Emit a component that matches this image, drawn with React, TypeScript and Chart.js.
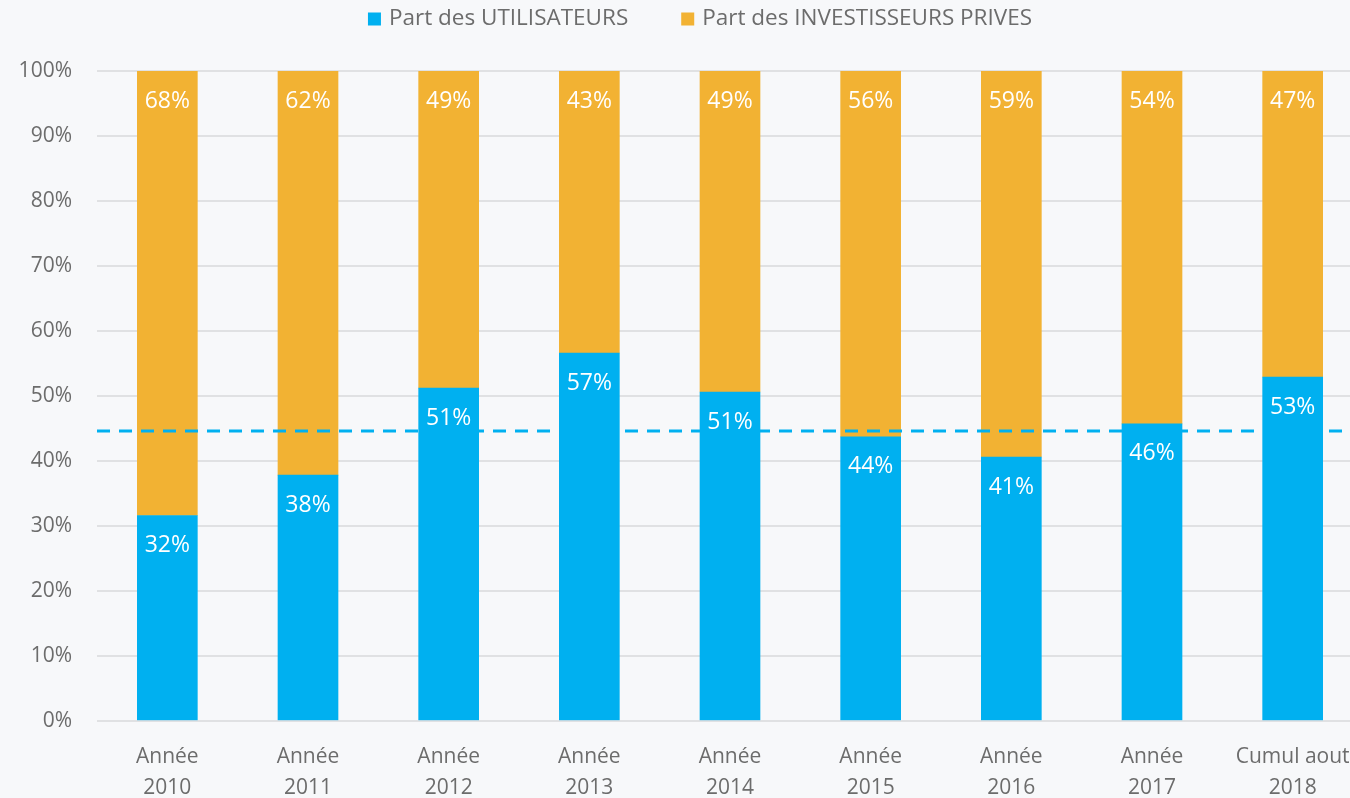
import React, { useEffect, useRef } from "react";
import { Chart, registerables } from "chart.js";

Chart.register(...registerables);

const categories: string[][] = [
  ["Année", "2010"],
  ["Année", "2011"],
  ["Année", "2012"],
  ["Année", "2013"],
  ["Année", "2014"],
  ["Année", "2015"],
  ["Année", "2016"],
  ["Année", "2017"],
  ["Cumul aout", "2018"],
];
const usersShare: number[] = [31.6, 37.8, 51.2, 56.6, 50.6, 43.7, 40.6, 45.7, 52.9];
const privateShare: number[] = [68.4, 62.2, 48.8, 43.4, 49.4, 56.3, 59.4, 54.3, 47.1];
const averageLine = 44.6;
const yTicks: number[] = [0, 10, 20, 30, 40, 50, 60, 70, 80, 90, 100];
const seriesNames: string[] = ["Part des UTILISATEURS", "Part des INVESTISSEURS PRIVES"];

const BLUE = "#00B0F0";
const ORANGE = "#F2B233";
const TEXT = "#6C6C6C";
const BG = "#F7F8FA";
const FONT = "'Open Sans', 'Noto Sans', sans-serif";

const W = 1400;
const H = 825;

const overlayPlugin = {
  id: "overlay",
  afterDatasetsDraw(chart: any) {
    const { ctx, chartArea, scales } = chart;
    // average dashed line
    const y = scales.y.getPixelForValue(averageLine);
    ctx.save();
    ctx.strokeStyle = BLUE;
    ctx.lineWidth = 3;
    ctx.setLineDash([13, 9]);
    ctx.beginPath();
    ctx.moveTo(chartArea.left, y);
    ctx.lineTo(chartArea.right, y);
    ctx.stroke();
    ctx.restore();
    // data labels
    ctx.save();
    ctx.fillStyle = "#ffffff";
    ctx.font = `23px ${FONT}`;
    ctx.textAlign = "center";
    ctx.textBaseline = "middle";
    chart.data.datasets.forEach((ds: any, di: number) => {
      const meta = chart.getDatasetMeta(di);
      meta.data.forEach((el: any, i: number) => {
        const v = ds.data[i];
        const top = Math.min(el.y, el.base);
        ctx.fillText(Math.round(v) + "%", el.x, top + 30);
      });
    });
    ctx.restore();
  },
  afterDraw(chart: any) {
    const { ctx } = chart;
    ctx.save();
    ctx.font = `22.5px ${FONT}`;
    ctx.textBaseline = "middle";
    const box = 13;
    const gap = 8;
    const itemGap = 53;
    const widths = seriesNames.map((n) => ctx.measureText(n).width);
    const total = widths.reduce((a: number, w: number) => a + box + gap + w, 0) + itemGap;
    let x = 700 - total / 2;
    const cy = 19;
    const colors = [BLUE, ORANGE];
    seriesNames.forEach((n, i) => {
      ctx.fillStyle = colors[i];
      ctx.fillRect(x, cy - box / 2, box, box);
      x += box + gap;
      ctx.fillStyle = TEXT;
      ctx.fillText(n, x, cy);
      x += widths[i] + itemGap;
    });
    ctx.restore();
  },
};

export default function App() {
  const ref = useRef<HTMLCanvasElement | null>(null);
  useEffect(() => {
    if (!ref.current) return;
    const chart = new Chart(ref.current, {
      type: "bar",
      data: {
        labels: categories,
        datasets: [
          { label: seriesNames[0], data: usersShare, backgroundColor: BLUE, barThickness: 60 },
          { label: seriesNames[1], data: privateShare, backgroundColor: ORANGE, barThickness: 60 },
        ],
      },
      options: {
        responsive: false,
        animation: false,
        layout: { padding: { top: 71, right: 37, left: 0, bottom: 0 } },
        plugins: { legend: { display: false }, tooltip: { enabled: false } },
        scales: {
          x: {
            stacked: true,
            grid: { display: false, drawTicks: false },
            border: { display: false },
            ticks: {
              color: TEXT,
              font: { family: FONT, size: 21, lineHeight: 1.48 },
              padding: 21,
              maxRotation: 0,
              autoSkip: false,
            },
          },
          y: {
            stacked: true,
            min: 0,
            max: 100,
            afterFit: (s: any) => {
              s.width = 97;
            },
            afterBuildTicks: (s: any) => {
              s.ticks = yTicks.map((v) => ({ value: v }));
            },
            grid: { color: "#E0E1E3", lineWidth: 2, drawTicks: false },
            border: { display: false },
            ticks: {
              color: TEXT,
              font: { family: FONT, size: 21 },
              padding: 25,
              callback: (v: any) => v + "%",
            },
          },
        },
      },
      plugins: [overlayPlugin],
    });
    return () => chart.destroy();
  }, []);
  return (
    <div
      style={{
        position: "fixed",
        left: 0,
        top: 0,
        width: 1350,
        height: 798,
        overflow: "hidden",
        background: BG,
      }}
    >
      <canvas ref={ref} width={W} height={H} style={{ display: "block" }} />
    </div>
  );
}
